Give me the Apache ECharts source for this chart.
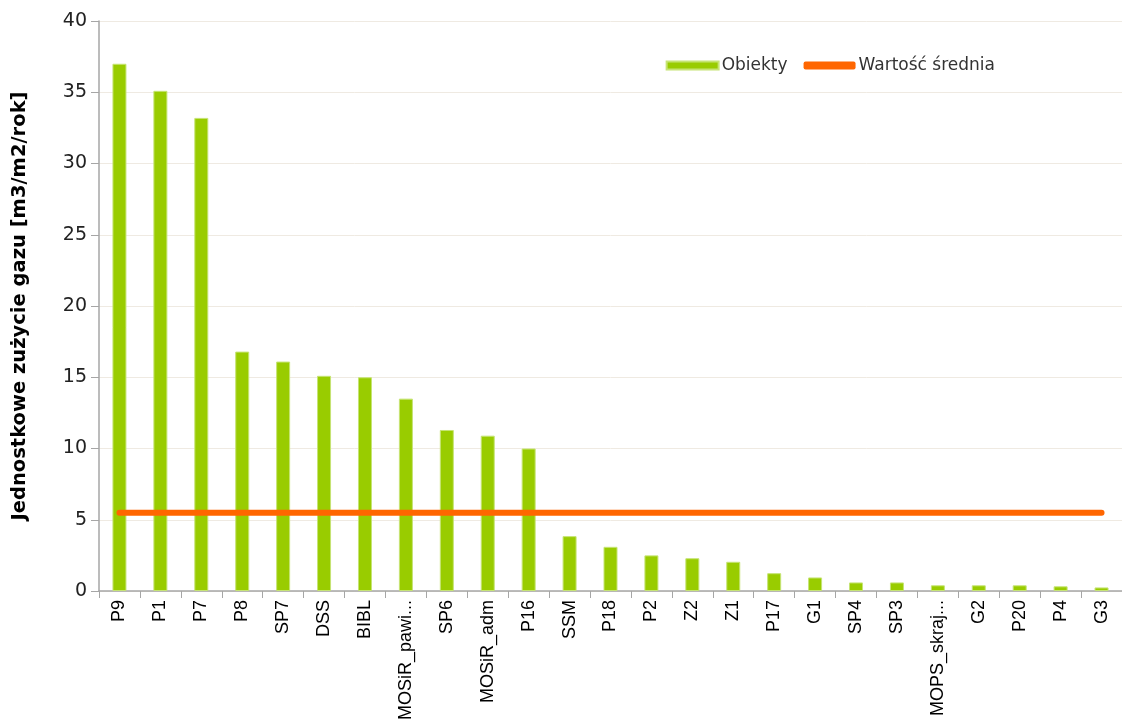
<!DOCTYPE html>
<html>
<head>
<meta charset="utf-8">
<script src="https://cdn.jsdelivr.net/npm/echarts@6/dist/echarts.min.js"></script>
<style>
html,body{margin:0;padding:0;background:#fff;}
#chart{width:1122px;height:724px;}
</style>
</head>
<body>
<div id="chart"></div>
<script>
var categories = ['P9','P1','P7','P8','SP7','DSS','BIBL','MOSiR_pawi...','SP6','MOSiR_adm','P16','SSM','P18','P2','Z2','Z1','P17','G1','SP4','SP3','MOPS_skraj...','G2','P20','P4','G3'];
var objValues = [37.0,35.1,33.2,16.8,16.1,15.1,15.0,13.5,11.3,10.9,10.0,3.85,3.1,2.5,2.3,2.05,1.25,0.95,0.6,0.6,0.4,0.4,0.4,0.33,0.25];
var meanValue = 5.5;
var meanValues = [];
for(var i=0;i<categories.length;i++){ meanValues.push(meanValue); }
var yTicks = ['0','5','10','15','20','25','30','35','40'];

var myChart = echarts.init(document.getElementById('chart'));
myChart.setOption({
	animation:false,
	legend:{
		right:122,
		top:52,
		itemGap:16,
		itemWidth:52,
		itemHeight:8,
		textStyle:{fontFamily:'DejaVu Sans',fontSize:17,color:'#333',padding:[0,0,0,-2]},
		data:[
			{name:'Obiekty',icon:'rect'},
			{name:'Wartość średnia',icon:'roundRect',itemStyle:{color:'#FF6600'}}
		]
	},
	grid:{left:99,right:0,top:21,bottom:133,containLabel:false,outerBoundsMode:'none'},
	xAxis:{
		type:'category',
		data:categories,
		axisLine:{lineStyle:{color:'#a6a6a6',width:1.5}},
		axisTick:{show:true,length:7,lineStyle:{color:'#a6a6a6'}},
		axisLabel:{
			rotate:90,
			interval:0,
			margin:9,
			fontFamily:'Liberation Sans',
			fontSize:18,
			color:'#000'
		}
	},
	yAxis:{
		type:'value',
		min:0,
		max:40,
		interval:5,
		name:'Jednostkowe zużycie gazu [m3/m2/rok]',
		nameLocation:'middle',
		nameGap:69,
		nameTextStyle:{fontFamily:'DejaVu Sans',fontWeight:'bold',fontSize:19.5,color:'#000'},
		axisLine:{show:true,lineStyle:{color:'#a6a6a6',width:1.5}},
		axisTick:{show:true,length:8,lineStyle:{color:'#a6a6a6'}},
		axisLabel:{
			margin:12,
			fontFamily:'DejaVu Sans',
			fontSize:19,
			color:'#222',
			formatter:function(v){ return yTicks[v/5]; }
		},
		splitLine:{show:true,lineStyle:{color:'#efeae2',width:1}}
	},
	series:[
		{
			name:'Obiekty',
			type:'bar',
			barWidth:14,
			data:objValues,
			itemStyle:{color:'#99CC00',borderColor:'#c6e474',borderWidth:1}
		},
		{
			name:'Wartość średnia',
			type:'line',
			data:meanValues,
			symbol:'none',
			lineStyle:{color:'#FF6600',width:6,cap:'round'},
			itemStyle:{color:'#FF6600'},
			z:5
		}
	]
});
</script>
</body>
</html>
